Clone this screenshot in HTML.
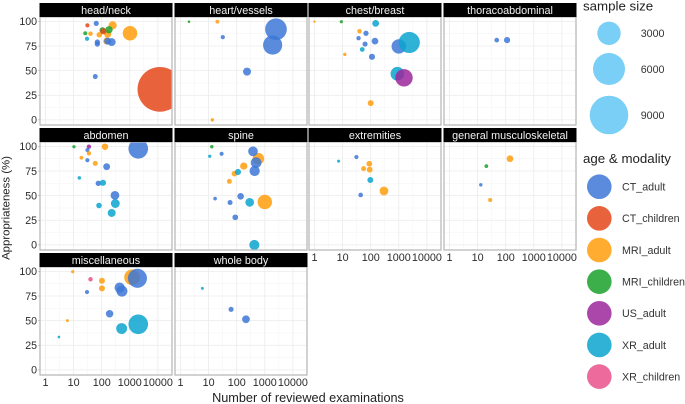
<!DOCTYPE html>
<html lang="en">
<head>
<meta charset="utf-8">
<title>Appropriateness by body region</title>
<style>
html,body{margin:0;padding:0;background:#fff;width:685px;height:404px;overflow:hidden}
svg{display:block;font-family:"Liberation Sans",Arial,sans-serif}
</style>
</head>
<body>
<svg id="chart" width="685" height="404" viewBox="0 0 685 404" xmlns="http://www.w3.org/2000/svg">
  <rect width="685" height="404" fill="#fff"/>
  <g id="panels"></g>
  <text transform="translate(9.5,208) rotate(-90)" text-anchor="middle" font-size="11.4" fill="#222">Appropriateness (%)</text>
  <text x="308" y="402" text-anchor="middle" font-size="12.7" fill="#222">Number of reviewed examinations</text>
  <g id="legends"></g>
</svg>
<script>
const facetTitles = ["head/neck","heart/vessels","chest/breast","thoracoabdominal","abdomen","spine","extremities","general musculoskeletal","miscellaneous","whole body"];
const modalityNames = ["CT_adult","CT_children","MRI_adult","MRI_children","US_adult","XR_adult","XR_children"];
const modalityColors = ["#3d77d6","#e4481a","#ff9e0c","#1aa02a","#9c279c","#0ba4cf","#e9508b"];
const xTickValues = [1,10,100,1000,10000];
const yTickValues = [0,25,50,75,100];
const sizeLegendValues = [3000,6000,9000];

// Series per facet: count (x), appropriateness % (y), modality index into modalityNames
const headNeckCount = [11800,1015,245,82,40,163,150,26,30,31,64,70,70,59,107,182,114,226,163];
const headNeckPct   = [31,88,96,86.4,87.5,87,80,88,82.4,96,98,79,77,44,91,91.5,90,79,80];
const headNeckMod   = [1,2,2,2,2,2,2,3,5,1,0,0,0,0,3,3,1,0,0];

const heartCount = [2500,1900,233,32,20.5,13.6,2];
const heartPct   = [92,76,49,84,99.7,0,99.7];
const heartMod   = [0,0,0,0,2,2,3];

const chestCount = [1000,2360,890,1530,150,40,68,37,63,142,50,12,111,100,1,9];
const chestPct   = [74.6,78.6,46.8,42.7,98,90,88,83,77,80,71.5,66.5,64,17,99.7,99.7];
const chestMod   = [0,5,5,4,5,2,0,0,0,0,5,2,0,2,2,3];

const thoracoCount = [48,112];
const thoracoPct   = [81,81];
const thoracoMod   = [0,0];

const abdomenCount = [2000,131,35,31,10.3,35,19,31,59,150,16,76,111,296,305,80,226];
const abdomenPct   = [97.6,99.7,99.7,96.3,99.7,93,88.5,86,82.8,79.4,68,62.5,63,50.3,42,40,32.4];
const abdomenMod   = [0,2,4,0,3,2,2,0,2,0,5,0,5,0,5,5,5];

const spineCount = [590,1000,178,83,55,380,490,435,13,29,11,111,17,58,138,290,89,425];
const spinePct   = [87.5,43.6,80,72.3,64.5,95,83.5,75,99.7,92.5,90,74,47,43,49.3,43.2,28,0];
const spineMod   = [2,2,2,2,2,0,0,0,3,0,5,5,0,0,0,5,0,5];

const extremitiesCount = [7.2,31,89,56,92,97,297,44];
const extremitiesPct   = [85,89.2,82.4,77.4,76.4,65.9,54.7,50.7];
const extremitiesMod   = [5,0,2,2,2,5,2,0];

const generalCount = [142,20.5,13,28];
const generalPct   = [87.5,80,61,45.6];
const generalMod   = [2,3,0,2];

const miscCount = [9.3,40,102,102,30,1200,1870,435,525,191,6,2000,513,3];
const miscPct   = [99.7,92,90.5,82.8,79,94,93,83.5,80,57,50,46.3,42,33.4];
const miscMod   = [2,6,2,2,0,2,0,0,0,0,2,5,5,5];

const wholeBodyCount = [6,63,214];
const wholeBodyPct   = [82.8,61.5,51.4];
const wholeBodyMod   = [5,0,0];

const facetCounts = [headNeckCount,heartCount,chestCount,thoracoCount,abdomenCount,spineCount,extremitiesCount,generalCount,miscCount,wholeBodyCount];
const facetPcts = [headNeckPct,heartPct,chestPct,thoracoPct,abdomenPct,spinePct,extremitiesPct,generalPct,miscPct,wholeBodyPct];
const facetMods = [headNeckMod,heartMod,chestMod,thoracoMod,abdomenMod,spineMod,extremitiesMod,generalMod,miscMod,wholeBodyMod];

const NS = "http://www.w3.org/2000/svg";
const colLeft = [40,175,309,444];
const rowStripTop = [3,128,253];
const PANEL_W = 132, STRIP_H = 14;
const rowPanelH = [108,108,108];

function slug(s){ return s.replace(/[^a-zA-Z0-9]+/g,'-').toLowerCase(); }
function make(tag, attrs, parent){
  const el = document.createElementNS(NS, tag);
  for (const k in attrs) el.setAttribute(k, attrs[k]);
  parent.appendChild(el);
  return el;
}
function xScale(left, v){ return left + 5.5 + 28.1 * Math.log10(v); }
function yScale(top, v){ return top + 4.4 + (100 - v) * 0.985; }
function radius(n){ return 1.0 + 0.197 * Math.sqrt(n); }

const panelsRoot = document.getElementById('panels');
const defs = make('defs', {}, panelsRoot);

facetTitles.forEach(function(title, i){
  const col = i % 4, row = Math.floor(i / 4);
  const left = colLeft[col], stripTop = rowStripTop[row], top = stripTop + STRIP_H, h = rowPanelH[row];
  const name = slug(title);

  const g = make('g', {}, panelsRoot);
  
  

  const bg = make('rect', {x:left, y:top, width:PANEL_W, height:h, fill:'#fff'}, g);
  
  

  const grid = make('g', {}, g);
  
  
  yTickValues.forEach(function(v, k){
    const y = yScale(top, v);
    make('line', {x1:left, x2:left+PANEL_W, y1:y, y2:y, stroke:'#ebebeb', 'stroke-width':0.8}, grid);
    if (k < yTickValues.length - 1) {
      const ym = yScale(top, (v + yTickValues[k+1]) / 2);
      make('line', {x1:left, x2:left+PANEL_W, y1:ym, y2:ym, stroke:'#f3f3f3', 'stroke-width':0.5}, grid);
    }
  });
  xTickValues.forEach(function(v, k){
    const x = xScale(left, v);
    make('line', {x1:x, x2:x, y1:top, y2:top+h, stroke:'#ebebeb', 'stroke-width':0.8}, grid);
    if (k < xTickValues.length - 1) {
      const xm = xScale(left, Math.sqrt(v * xTickValues[k+1]));
      make('line', {x1:xm, x2:xm, y1:top, y2:top+h, stroke:'#f3f3f3', 'stroke-width':0.5}, grid);
    }
  });

  const clip = make('clipPath', {id:'clip-' + i}, defs);
  make('rect', {x:left, y:top, width:PANEL_W, height:h}, clip);

  const marks = make('g', {'clip-path':'url(#clip-' + i + ')'}, g);
  
  
  facetCounts[i].forEach(function(n, k){
    const m = facetMods[i][k];
    const c = make('circle', {
      cx: xScale(left, n),
      cy: yScale(top, facetPcts[i][k]),
      r: radius(n),
      fill: modalityColors[m],
      'fill-opacity': 0.85
    }, marks);
    
    
  });

  const border = make('rect', {x:left, y:top, width:PANEL_W, height:h, fill:'none', stroke:'#b5b5b5', 'stroke-width':1.2}, g);
  
  

  const strip = make('rect', {x:left-0.5, y:stripTop, width:PANEL_W+1, height:STRIP_H, fill:'#000'}, g);
  
  
  const st = make('text', {x:left+PANEL_W/2, y:stripTop+10.8, 'text-anchor':'middle', 'font-size':10.8, fill:'#f2f2f2'}, g);
  st.textContent = title;
  
  

  if (col === 0) {
    yTickValues.forEach(function(v){
      const y = yScale(top, v);
      const t = make('text', {x:37, y:y+3.8, 'text-anchor':'end', 'font-size':10.6, fill:'#2b2b2b'}, g);
      t.textContent = String(v);
      
      
      const tk = make('line', {x1:38, x2:40, y1:y, y2:y, stroke:'#aaa', 'stroke-width':0.6}, g);
      
      
    });
  }
  const showX = row === 2 || i === 6 || i === 7;
  if (showX) {
    xTickValues.forEach(function(v){
      const x = xScale(left, v);
      const t = make('text', {x:x, y:top+h+10.8, 'text-anchor':'middle', 'font-size':10.8, fill:'#2b2b2b'}, g);
      t.textContent = String(v);
      
      
    });
  }
});

const legendRoot = document.getElementById('legends');
const sizeLegend = make('g', {}, legendRoot);


const sizeTitle = make('text', {x:583, y:10.5, 'font-size':13.3, fill:'#222'}, sizeLegend);
sizeTitle.textContent = 'sample size';


const sizeRowY = [33.3,69,115];
const sizeKeyR = [11.7,16,19.3];
sizeLegendValues.forEach(function(v, k){
  const c = make('circle', {cx:609, cy:sizeRowY[k], r:sizeKeyR[k], fill:'#7acff7'}, sizeLegend);
  
  
  const t = make('text', {x:640.7, y:sizeRowY[k]+3.8, 'font-size':10.7, fill:'#333'}, sizeLegend);
  t.textContent = String(v);
  
  
});

const colorLegend = make('g', {}, legendRoot);


const colorTitle = make('text', {x:583, y:163, 'font-size':13.3, fill:'#222'}, colorLegend);
colorTitle.textContent = 'age & modality';


modalityNames.forEach(function(nm, k){
  const y = 186.7 + k * 31.65;
  const c = make('circle', {cx:599.3, cy:y, r:12.3, fill:modalityColors[k], 'fill-opacity':0.85}, colorLegend);
  
  
  const t = make('text', {x:622, y:y+3.8, 'font-size':10.7, fill:'#333'}, colorLegend);
  t.textContent = nm;
  
  
});
</script>
</body>
</html>
